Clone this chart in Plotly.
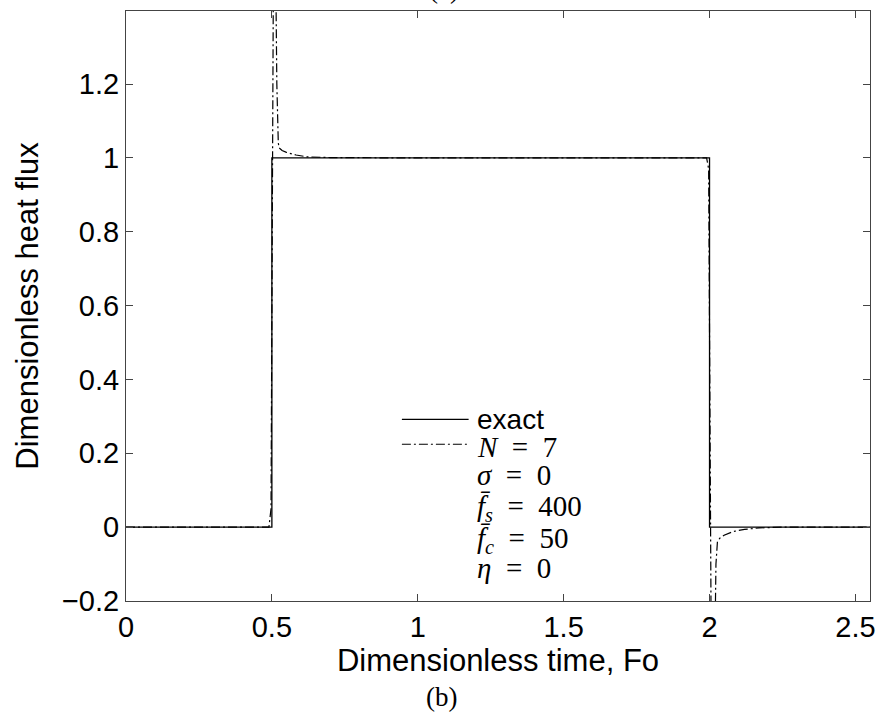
import plotly.graph_objects as go

# ---- data ----
exact_x = [0.0, 0.5, 0.5, 2.0, 2.0, 2.55]
exact_y = [0.0, 0.0, 1.0, 1.0, 0.0, 0.0]

recon_x = [0.0, 0.3, 0.49, 0.497, 0.502, 0.506, 0.508, 0.512, 0.517, 0.522, 0.525,
           0.535, 0.55, 0.583, 0.62, 0.7, 0.8, 1.0, 1.5, 1.9, 1.99, 1.997, 2.002,
           2.007, 2.012, 2.017, 2.022, 2.027, 2.035, 2.05, 2.08, 2.12, 2.17, 2.25,
           2.4, 2.55]
recon_y = [0.0, 0.0, 0.0, 0.05, 1.2, 1.9, 2.0, 1.6, 1.2, 1.04, 1.027,
           1.02, 1.015, 1.008, 1.003, 1.001, 1.0, 1.0, 1.0, 1.0, 1.0, 0.97, 0.2,
           -0.5, -0.7, -0.45, -0.1, -0.04, -0.03, -0.022, -0.012, -0.006, -0.002, 0.0,
           0.0, 0.0]

x_ticks = [0, 0.5, 1, 1.5, 2, 2.5]
x_tick_labels = ["0", "0.5", "1", "1.5", "2", "2.5"]
y_ticks = [-0.2, 0, 0.2, 0.4, 0.6, 0.8, 1.0, 1.2]
y_tick_labels = ["\u22120.2", "0", "0.2", "0.4", "0.6", "0.8", "1", "1.2"]

EQ = "  =  "
legend_labels = ["exact", "<i>N</i>" + EQ + "7", "<i>\u03c3</i>" + EQ + "0",
                 "<i>f\u0304</i><sub><i>s</i></sub>" + EQ + "400",
                 "<i>f\u0304</i><sub><i>c</i></sub>" + EQ + "50",
                 "<i>\u03b7</i>" + EQ + "0"]

# ---- layout constants (pixels) ----
W, H = 886, 719
L, R, T, B = 126, 13, 10, 118
PW, PH = W - L - R, H - T - B

def px(x):
    return (x - L) / PW

def py(y):
    return (H - B - y) / PH

DASHDOT = "9px,3px,2px,3px"

fig = go.Figure()
fig.add_trace(go.Scatter(x=exact_x, y=exact_y, mode="lines",
                         line=dict(color="black", width=1.3), showlegend=False))
fig.add_trace(go.Scatter(x=recon_x, y=recon_y, mode="lines",
                         line=dict(color="black", width=1.2, dash=DASHDOT),
                         showlegend=False))

axis_common = dict(showgrid=False, zeroline=False, showline=True, linecolor="#444",
                   linewidth=1, mirror="ticks", ticks="inside", ticklen=7,
                   tickcolor="#444", tickfont=dict(family="Liberation Sans", size=29, color="black"))

fig.update_xaxes(range=[0, 2.55], tickvals=x_ticks, ticktext=x_tick_labels,
                 title=dict(text="Dimensionless time, Fo",
                            font=dict(family="Liberation Sans", size=31, color="black"),
                            standoff=2),
                 **axis_common)
fig.update_yaxes(range=[-0.2, 1.398], tickvals=y_ticks, ticktext=y_tick_labels,
                 title=dict(text="Dimensionless heat flux",
                            font=dict(family="Liberation Sans", size=31, color="black"),
                            standoff=14),
                 **axis_common)

shapes = [
    dict(type="line", xref="paper", yref="paper", x0=px(403), x1=px(470), y0=py(419), y1=py(419),
         line=dict(color="black", width=1.3)),
    dict(type="line", xref="paper", yref="paper", x0=px(403), x1=px(470), y0=py(444), y1=py(444),
         line=dict(color="black", width=1.2, dash=DASHDOT)),
]

annotations = []
row_y = [419, 447, 475, 508, 540, 568]
for i, (lab, yy) in enumerate(zip(legend_labels, row_y)):
    fam = "Liberation Sans" if i == 0 else "Liberation Serif, Times New Roman, serif"
    size = 28 if i == 0 else 29
    annotations.append(dict(text=lab, xref="paper", yref="paper", x=px(476), y=py(yy),
                            xanchor="left", yanchor="middle", showarrow=False,
                            font=dict(family=fam, size=size, color="black")))

annotations.append(dict(text="(b)", xref="paper", yref="paper", x=px(443), y=py(697),
                        xanchor="center", yanchor="middle", showarrow=False,
                        font=dict(family="Liberation Serif", size=27, color="black")))
annotations.append(dict(text="(a)", xref="paper", yref="paper", x=px(445), y=py(-12),
                        xanchor="center", yanchor="middle", showarrow=False,
                        font=dict(family="Liberation Serif", size=27, color="black")))

fig.update_layout(width=W, height=H, margin=dict(l=L, r=R, t=T, b=B),
                  paper_bgcolor="white", plot_bgcolor="white",
                  shapes=shapes, annotations=annotations, showlegend=False)

fig.write_html("out.html")
